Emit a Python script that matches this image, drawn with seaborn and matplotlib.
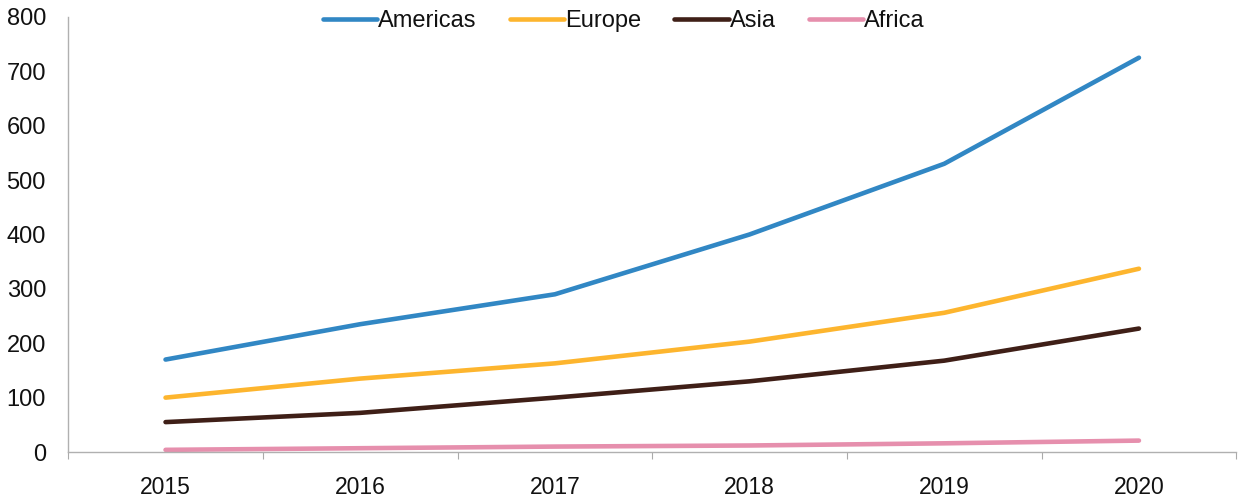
import matplotlib
matplotlib.use("Agg")
import matplotlib.pyplot as plt
import numpy as np
import pandas as pd
import seaborn as sns

years = ["2015", "2016", "2017", "2018", "2019", "2020"]
americas = [170, 235, 290, 400, 530, 725]
europe = [100, 135, 163, 203, 256, 337]
asia = [55, 72, 100, 130, 168, 227]
africa = [4, 7, 10, 12, 16, 21]

regions = ["Americas", "Europe", "Asia", "Africa"]
colors = ["#3187c4", "#fdb52e", "#3f1f17", "#e68fad"]

df = pd.DataFrame({
    "year": years * 4,
    "pos": list(range(len(years))) * 4,
    "value": americas + europe + asia + africa,
    "region": sum([[r] * len(years) for r in regions], []),
})

sns.set_style("white")
plt.rcParams["font.family"] = ["Liberation Sans", "DejaVu Sans"]

fig = plt.figure(figsize=(12.4, 4.97), dpi=100)
ax = fig.add_axes([0.055, 0.0905, 0.942, 0.8755])

sns.lineplot(data=df, x="pos", y="value", hue="region", hue_order=regions,
             palette=colors, linewidth=3.3, ax=ax)

ax.set_xlim(-0.5, 5.5)
ax.set_ylim(0, 800)
ax.set_yticks(np.arange(0, 801, 100))
ax.set_xticks(range(len(years)))
ax.set_xticklabels(years)
ax.set_xticks(np.arange(-0.5, 5.6, 1), minor=True)
ax.tick_params(axis="x", which="major", length=0, pad=17, labelsize=16.5,
               labelcolor="#111111")
ax.tick_params(axis="x", which="minor", length=5, width=0.8,
               color="#aaaaaa", direction="out", bottom=True)
ax.tick_params(axis="y", length=0, pad=16, labelsize=17,
               labelcolor="#111111")
ax.set_xlabel("")
ax.set_ylabel("")

for side in ["top", "right"]:
    ax.spines[side].set_visible(False)
for side in ["left", "bottom"]:
    ax.spines[side].set_color("#b0b0b0")
    ax.spines[side].set_linewidth(1)

leg = ax.legend(loc="center", bbox_to_anchor=(0.503, 1 - 21 / 497),
                bbox_transform=fig.transFigure, ncol=4,
                frameon=False, fontsize=17, handlelength=2.3,
                handletextpad=0.05, columnspacing=1.4)
for t in leg.get_texts():
    t.set_color("#111111")

fig.savefig("out.png", dpi=100)
